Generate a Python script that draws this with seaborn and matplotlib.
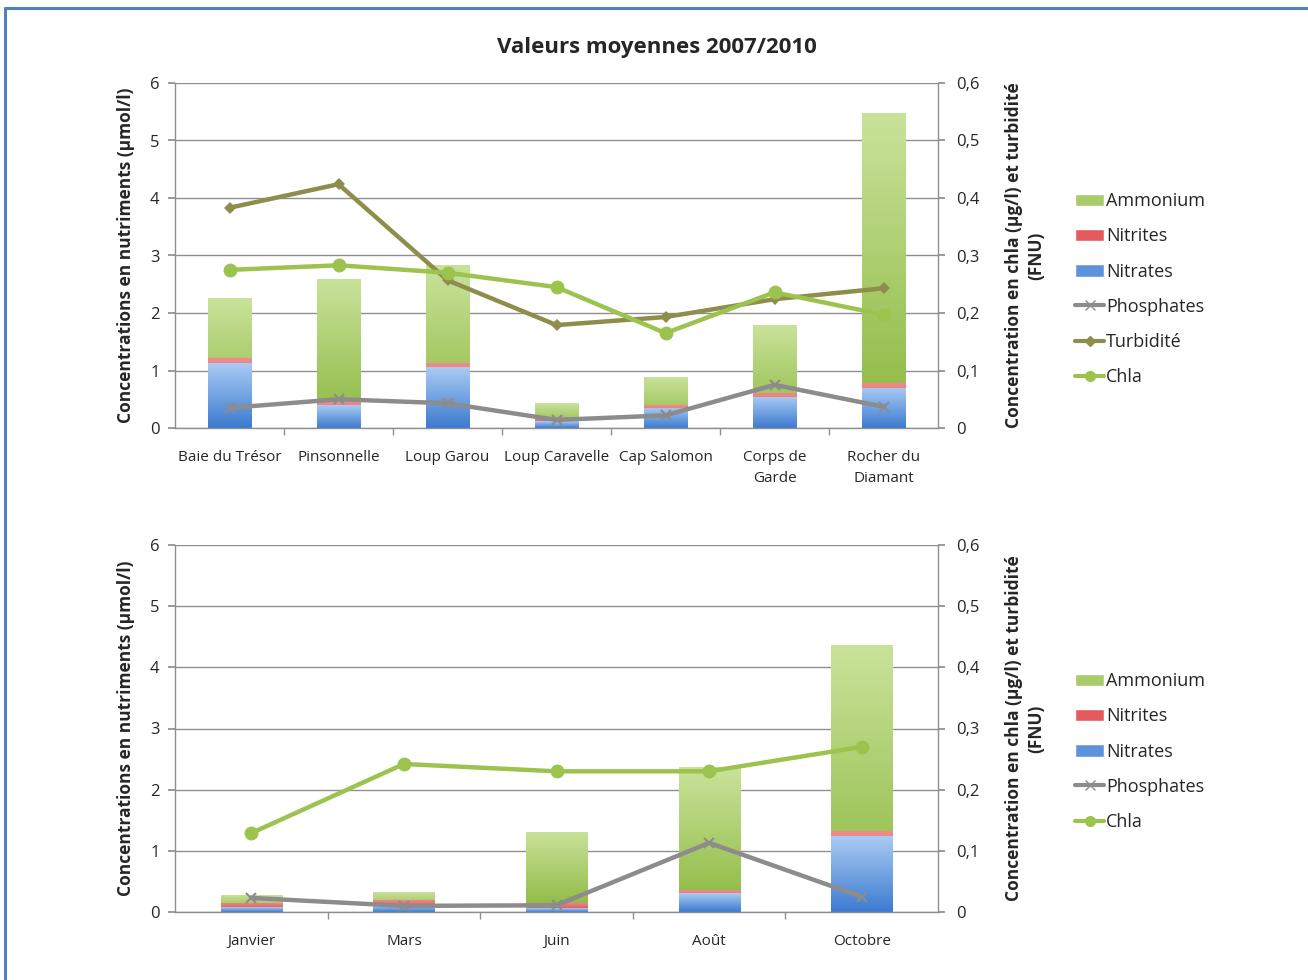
import numpy as np
import pandas as pd
import matplotlib
matplotlib.use("Agg")
import matplotlib.pyplot as plt
import seaborn as sns
from matplotlib.lines import Line2D
from matplotlib.patches import Patch
from matplotlib.ticker import FuncFormatter, FixedLocator

# ---- Stations (moyennes 2007/2010) ----
stations = ["Baie du Trésor", "Pinsonnelle", "Loup Garou", "Loup Caravelle",
            "Cap Salomon", "Corps de\nGarde", "Rocher du\nDiamant"]
st_nitrates = [1.13, 0.40, 1.06, 0.12, 0.35, 0.54, 0.70]
st_nitrites = [0.08, 0.05, 0.07, 0.08, 0.05, 0.07, 0.08]
st_ammonium = [1.05, 2.15, 1.70, 0.23, 0.49, 1.18, 4.70]
st_phosphates = [0.35, 0.50, 0.43, 0.14, 0.22, 0.75, 0.37]
st_turbidite = [0.383, 0.424, 0.257, 0.179, 0.193, 0.224, 0.243]
st_chla = [0.275, 0.283, 0.270, 0.245, 0.165, 0.236, 0.197]

# ---- Mois ----
mois = ["Janvier", "Mars", "Juin", "Août", "Octobre"]
mo_nitrates = [0.08, 0.10, 0.06, 0.31, 1.24]
mo_nitrites = [0.07, 0.10, 0.09, 0.05, 0.08]
mo_ammonium = [0.13, 0.13, 1.16, 2.01, 3.04]
mo_phosphates = [0.23, 0.10, 0.11, 1.13, 0.25]
mo_chla = [0.129, 0.242, 0.230, 0.230, 0.270]

C_AMM_TOP, C_AMM_BOT = "#C9E29A", "#8CB840"
C_NIT_TOP, C_NIT_BOT = "#F08A8A", "#DE4447"
C_NO3_TOP, C_NO3_BOT = "#A9CBF3", "#3D7BD0"
C_PHOS = "#8C8C8C"
C_TURB = "#8E8E4C"
C_CHLA = "#9DC34F"
GRID = "#8F8F8F"

sns.set_theme(style="white")
plt.rcParams["font.family"] = ["Open Sans", "DejaVu Sans"]
plt.rcParams["axes.linewidth"] = 1.0

fig = plt.figure(figsize=(13.08, 9.8), dpi=100)


def gradient_fill(ax, patch, c_top, c_bot):
    """Replace a bar's flat colour with a vertical gradient clipped to it."""
    x0, y0 = patch.get_x(), patch.get_y()
    w, h = patch.get_width(), patch.get_height()
    if h <= 0:
        return
    top = np.array(matplotlib.colors.to_rgb(c_top))
    bot = np.array(matplotlib.colors.to_rgb(c_bot))
    t = np.linspace(0, 1, 64)[:, None]
    img = (top * (1 - t) + bot * t)[:, None, :]
    im = ax.imshow(img, extent=(x0, x0 + w, y0, y0 + h), origin="upper",
                   aspect="auto", zorder=patch.get_zorder(), interpolation="bilinear")
    im.set_clip_path(patch)
    patch.set_facecolor("none")
    patch.set_edgecolor("none")


def draw_panel(rect, cats, nitrates, nitrites, ammonium, phosphates, turb, chla, show_turb):
    ax = fig.add_axes(rect)
    n = len(cats)
    df = pd.DataFrame({
        "cat": cats,
        "total": np.array(nitrates) + np.array(nitrites) + np.array(ammonium),
        "no3_no2": np.array(nitrates) + np.array(nitrites),
        "no3": nitrates,
    })
    layers = [("total", C_AMM_TOP, C_AMM_BOT),
              ("no3_no2", C_NIT_TOP, C_NIT_BOT),
              ("no3", C_NO3_TOP, C_NO3_BOT)]
    for col, ct, cb in layers:
        before = len(ax.patches)
        sns.barplot(data=df, x="cat", y=col, color=ct, width=0.4, ax=ax,
                    order=cats, zorder=2, linewidth=0)
        for p in ax.patches[before:]:
            gradient_fill(ax, p, ct, cb)

    # Phosphates on the nutrient axis
    sns.lineplot(x=np.arange(n), y=phosphates, ax=ax, color=C_PHOS, lw=3.2,
                 marker="x", markersize=7, markeredgewidth=1.5,
                 markeredgecolor=C_PHOS, zorder=4)

    ax.set_xlim(-0.5, n - 0.5)
    ax.set_ylim(0, 6)
    ax.set_yticks(range(0, 7))
    ax.yaxis.grid(True, color=GRID, lw=1.0)
    ax.set_axisbelow(True)
    ax.set_xlabel("")
    ax.set_ylabel("Concentrations en nutriments (µmol/l)", fontsize=12.5,
                  fontweight="bold", labelpad=11)
    ax.set_xticks(range(n))
    ax.set_xticklabels(cats, fontsize=11, linespacing=1.55)
    ax.tick_params(axis="x", which="major", length=0, pad=16)
    ax.xaxis.set_minor_locator(FixedLocator(np.arange(0.5, n - 0.5, 1.0)))
    ax.tick_params(axis="x", which="minor", length=5, color=GRID, direction="out", bottom=True)
    ax.tick_params(axis="y", length=5, color=GRID, direction="out", labelsize=12, pad=6, left=True)
    for s in ["top", "right"]:
        ax.spines[s].set_visible(False)
    for s in ["left", "bottom"]:
        ax.spines[s].set_color(GRID)

    ax2 = ax.twinx()
    if show_turb:
        sns.lineplot(x=np.arange(n), y=turb, ax=ax2, color=C_TURB, lw=3.2,
                     marker="D", markersize=6, markeredgewidth=0, zorder=5)
    sns.lineplot(x=np.arange(n), y=chla, ax=ax2, color=C_CHLA, lw=3.2,
                 marker="o", markersize=10, markeredgewidth=0, zorder=6)
    ax2.set_ylim(0, 0.6)
    ax2.set_yticks(np.round(np.arange(0, 0.61, 0.1), 1))
    ax2.yaxis.set_major_formatter(FuncFormatter(lambda v, _: ("%g" % round(v, 1)).replace(".", ",")))
    ax2.tick_params(axis="y", length=5, color=GRID, direction="out", labelsize=12, pad=8, right=True)
    ax2.set_ylabel("Concentration en chla (µg/l) et turbidité\n(FNU)", fontsize=12.5,
                   fontweight="bold", labelpad=18, linespacing=1.35)
    ax2.grid(False)
    for s in ["top", "left", "bottom"]:
        ax2.spines[s].set_visible(False)
    ax2.spines["right"].set_color(GRID)
    ax2.set_xlim(-0.5, n - 0.5)
    return ax, ax2


def legend_handles(with_turb):
    h = [Patch(facecolor="#A8CC6A", label="Ammonium"),
         Patch(facecolor="#E55A5C", label="Nitrites"),
         Patch(facecolor="#5E93DB", label="Nitrates"),
         Line2D([], [], color=C_PHOS, lw=3, marker="x", markersize=7, label="Phosphates")]
    if with_turb:
        h.append(Line2D([], [], color=C_TURB, lw=3, marker="D", markersize=5, label="Turbidité"))
    h.append(Line2D([], [], color=C_CHLA, lw=3, marker="o", markersize=7, label="Chla"))
    return h


W, H = 1308, 980
top_rect = [175 / W, 1 - 428 / H, 763 / W, 345 / H]
bot_rect = [175 / W, 1 - 912 / H, 763 / W, 367 / H]

draw_panel(top_rect, stations, st_nitrates, st_nitrites, st_ammonium,
           st_phosphates, st_turbidite, st_chla, True)
draw_panel(bot_rect, mois, mo_nitrates, mo_nitrites, mo_ammonium,
           mo_phosphates, None, mo_chla, False)

leg_kw = dict(frameon=False, fontsize=13, handlelength=1.6, handletextpad=0.1,
              labelspacing=0.95, borderaxespad=0, loc="upper left")
fig.legend(handles=legend_handles(True), bbox_to_anchor=(1068 / W, 1 - 185 / H), **leg_kw)
fig.legend(handles=legend_handles(False), bbox_to_anchor=(1068 / W, 1 - 665 / H), **leg_kw)

fig.text(657 / W, 1 - 47 / H, "Valeurs moyennes 2007/2010", ha="center", va="center",
         fontsize=16, fontweight="bold")

# Blue frame: top and left edges
frame_kw = dict(transform=fig.transFigure, color="#4F81BD", lw=2.2, zorder=10)
fig.add_artist(Line2D([5 / W, 1.0], [1 - 8 / H, 1 - 8 / H], **frame_kw))
fig.add_artist(Line2D([5 / W, 5 / W], [0.0, 1 - 8 / H], **frame_kw))

fig.savefig("out.png", dpi=100, facecolor="white")
